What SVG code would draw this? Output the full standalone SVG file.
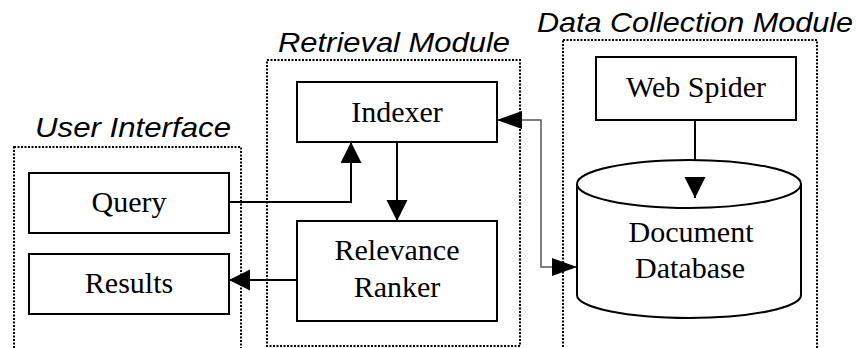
<svg xmlns="http://www.w3.org/2000/svg" width="858" height="348" viewBox="0 0 858 348">
<style>
.bg{fill:#fff}
.grp{fill:none;stroke:#000;stroke-width:2;stroke-dasharray:2 1.5}
.box{fill:#fff;stroke:#000;stroke-width:2}
.t{font-family:"Liberation Serif","Times New Roman",serif;font-size:30px;fill:#000;text-anchor:middle}
.h{font-family:"Liberation Sans",Arial,sans-serif;font-size:28px;font-style:italic;fill:#000}
.c{fill:none;stroke:#000;stroke-width:2}
.g{fill:none;stroke:#555;stroke-width:1.5}
</style>
<defs>
<marker id="ah" markerUnits="userSpaceOnUse" markerWidth="22" markerHeight="22" refX="21" refY="10.5" orient="auto-start-reverse" viewBox="0 0 22 22">
<path d="M0,0 L21,10.5 L0,21 z" fill="#000"/>
</marker>
<marker id="ag" markerUnits="userSpaceOnUse" markerWidth="26" markerHeight="20" refX="25" refY="9" orient="auto-start-reverse" viewBox="0 0 26 20">
<path d="M0,0 L25,9 L0,18 z" fill="#000"/>
</marker>
</defs>
<rect class="bg" x="0" y="0" width="858" height="348"/>

<g id="user-interface">
<rect class="grp" x="14" y="147" width="227" height="220"/>
<text class="h" x="35" y="137" textLength="196" lengthAdjust="spacingAndGlyphs">User Interface</text>
</g>
<g id="retrieval-module">
<rect class="grp" x="267" y="60" width="253" height="286"/>
<text class="h" x="278" y="52" textLength="232" lengthAdjust="spacingAndGlyphs">Retrieval Module</text>
</g>
<g id="data-collection-module">
<rect class="grp" x="563" y="40" width="254" height="330"/>
<text class="h" x="537" y="32" textLength="316" lengthAdjust="spacingAndGlyphs">Data Collection Module</text>
</g>

<g id="connectors">
<polyline class="c" points="229,202 351,202 351,142" marker-end="url(#ah)"/>
<line class="c" x1="397" y1="142" x2="397" y2="221" marker-end="url(#ah)"/>
<line class="c" x1="297" y1="280" x2="229" y2="280" marker-end="url(#ah)"/>
<polyline class="g" points="497,120 541,120 541,267 577,267" marker-start="url(#ag)" marker-end="url(#ag)"/>
<line class="c" x1="695" y1="120" x2="695" y2="198" marker-end="url(#ah)"/>
</g>

<g id="query">
<rect class="box" x="29" y="173" width="200" height="60"/>
<text class="t" x="129" y="212">Query</text>
</g>
<g id="results">
<rect class="box" x="29" y="254" width="200" height="60"/>
<text class="t" x="129" y="293">Results</text>
</g>
<g id="indexer">
<rect class="box" x="297" y="82" width="200" height="60"/>
<text class="t" x="397" y="122">Indexer</text>
</g>
<g id="relevance-ranker">
<rect class="box" x="297" y="221" width="200" height="100"/>
<text class="t" x="397" y="260">Relevance</text>
<text class="t" x="397" y="297">Ranker</text>
</g>
<g id="web-spider">
<rect class="box" x="596" y="57" width="200" height="63"/>
<text class="t" x="696" y="97">Web Spider</text>
</g>
<g id="document-database">
<path class="box" d="M577,184 L577,295 A112,23 0 0 0 801,295 L801,184"/>
<ellipse class="box" cx="689" cy="184" rx="112" ry="24" fill="none"/>
<line class="c" x1="695" y1="184" x2="695" y2="198" marker-end="url(#ah)"/>
<text class="t" x="691" y="242">Document</text>
<text class="t" x="690" y="278">Database</text>
</g>
</svg>
